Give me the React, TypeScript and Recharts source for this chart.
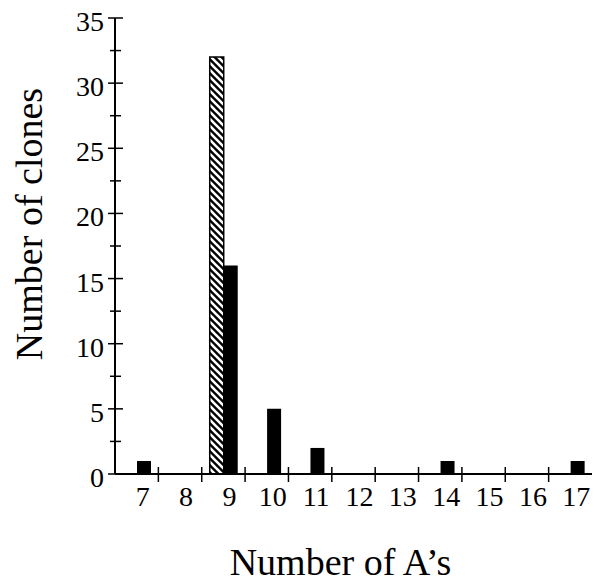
import { Bar, BarChart, XAxis, YAxis, Label } from 'recharts'

const CATEGORIES = ['7', '8', '9', '10', '11', '12', '13', '14', '15', '16', '17']
const HATCHED_VALUES = [0, 0, 32, 0, 0, 0, 0, 0, 0, 0, 0]
const SOLID_VALUES = [1, 0, 16, 5, 2, 0, 0, 1, 0, 0, 1]
const Y_TICKS = [0, 2.5, 5, 7.5, 10, 12.5, 15, 17.5, 20, 22.5, 25, 27.5, 30, 32.5, 35]
const Y_LABELED = [0, 5, 10, 15, 20, 25, 30, 35]

const data = CATEGORIES.map((name, i) => ({ name, hatched: HATCHED_VALUES[i], solid: SOLID_VALUES[i] }))

const FONT = '"Liberation Serif", "Times New Roman", serif'

function XTick(props: any) {
  const { x, y, payload, index } = props
  const half = payload.offset ?? 0
  return (
    <g>
      {index < CATEGORIES.length - 1 && (
        <line x1={x + half} x2={x + half} y1={y - 7} y2={y + 8} stroke="#000" strokeWidth={1.5} />
      )}
      <text x={x + 6} y={y + 32} textAnchor="middle" fontSize={28} fontFamily={FONT} fill="#000">
        {payload.value}
      </text>
    </g>
  )
}

function YTick(props: any) {
  const { x, y, payload } = props
  const major = Y_LABELED.includes(payload.value)
  return (
    <g>
      <line x1={x - (major ? 7 : 5)} x2={x + (major ? 8 : 6)} y1={y} y2={y} stroke="#000" strokeWidth={1.5} />
      {major && (
        <text x={x - 11} y={y + 13} textAnchor="end" fontSize={28} fontFamily={FONT} fill="#000">
          {payload.value}
        </text>
      )}
    </g>
  )
}

export default function App() {
  return (
    <div style={{ position: 'absolute', left: 0, top: 0, background: '#fff' }}>
      <BarChart
        width={594}
        height={583}
        data={data}
        margin={{ top: 18, right: 2, left: 0, bottom: 0 }}
        barGap={0}
        barSize={14}
      >
        <defs>
          <pattern id="hatch" patternUnits="userSpaceOnUse" width={7} height={7}>
            <rect x={0} y={0} width={7} height={7} fill="#000" />
            <path d="M-1,-1 L8,8 M-1,6 L1,8 M6,-1 L8,1" stroke="#fff" strokeWidth={2.6} />
          </pattern>
        </defs>
        <XAxis
          dataKey="name"
          height={109}
          axisLine={{ stroke: '#000', strokeWidth: 2 }}
          tickLine={false}
          tickSize={0}
          tickMargin={0}
          tick={<XTick />}
          interval={0}
        >
          <Label
            content={(p: any) => {
              const vb = p.viewBox
              return (
                <text x={vb.x + vb.width / 2 - 13} y={575} textAnchor="middle" fontSize={38} fontFamily={FONT} fill="#000">
                  Number of A’s
                </text>
              )
            }}
          />
        </XAxis>
        <XAxis xAxisId="top" orientation="top" height={0} tick={false} tickLine={false} axisLine={{ stroke: '#000', strokeWidth: 2 }} />
        <YAxis
          width={115}
          domain={[0, 35]}
          ticks={Y_TICKS}
          interval={0}
          axisLine={{ stroke: '#000', strokeWidth: 2 }}
          tickLine={false}
          tickSize={0}
          tickMargin={0}
          tick={<YTick />}
        >
          <Label
            content={() => {
              const cx = 42
              const cy = 224
              return (
                <text x={cx} y={cy} transform={`rotate(-90, ${cx}, ${cy})`} textAnchor="middle" fontSize={38} fontFamily={FONT} fill="#000">
                  Number of clones
                </text>
              )
            }}
          />
        </YAxis>
        <YAxis yAxisId="right" orientation="right" width={0} domain={[0, 35]} tick={false} tickLine={false} axisLine={{ stroke: '#000', strokeWidth: 2 }} />
        <Bar dataKey="hatched" fill="url(#hatch)" stroke="#000" strokeWidth={1.5} isAnimationActive={false} />
        <Bar dataKey="solid" fill="#000" isAnimationActive={false} />
      </BarChart>
    </div>
  )
}
